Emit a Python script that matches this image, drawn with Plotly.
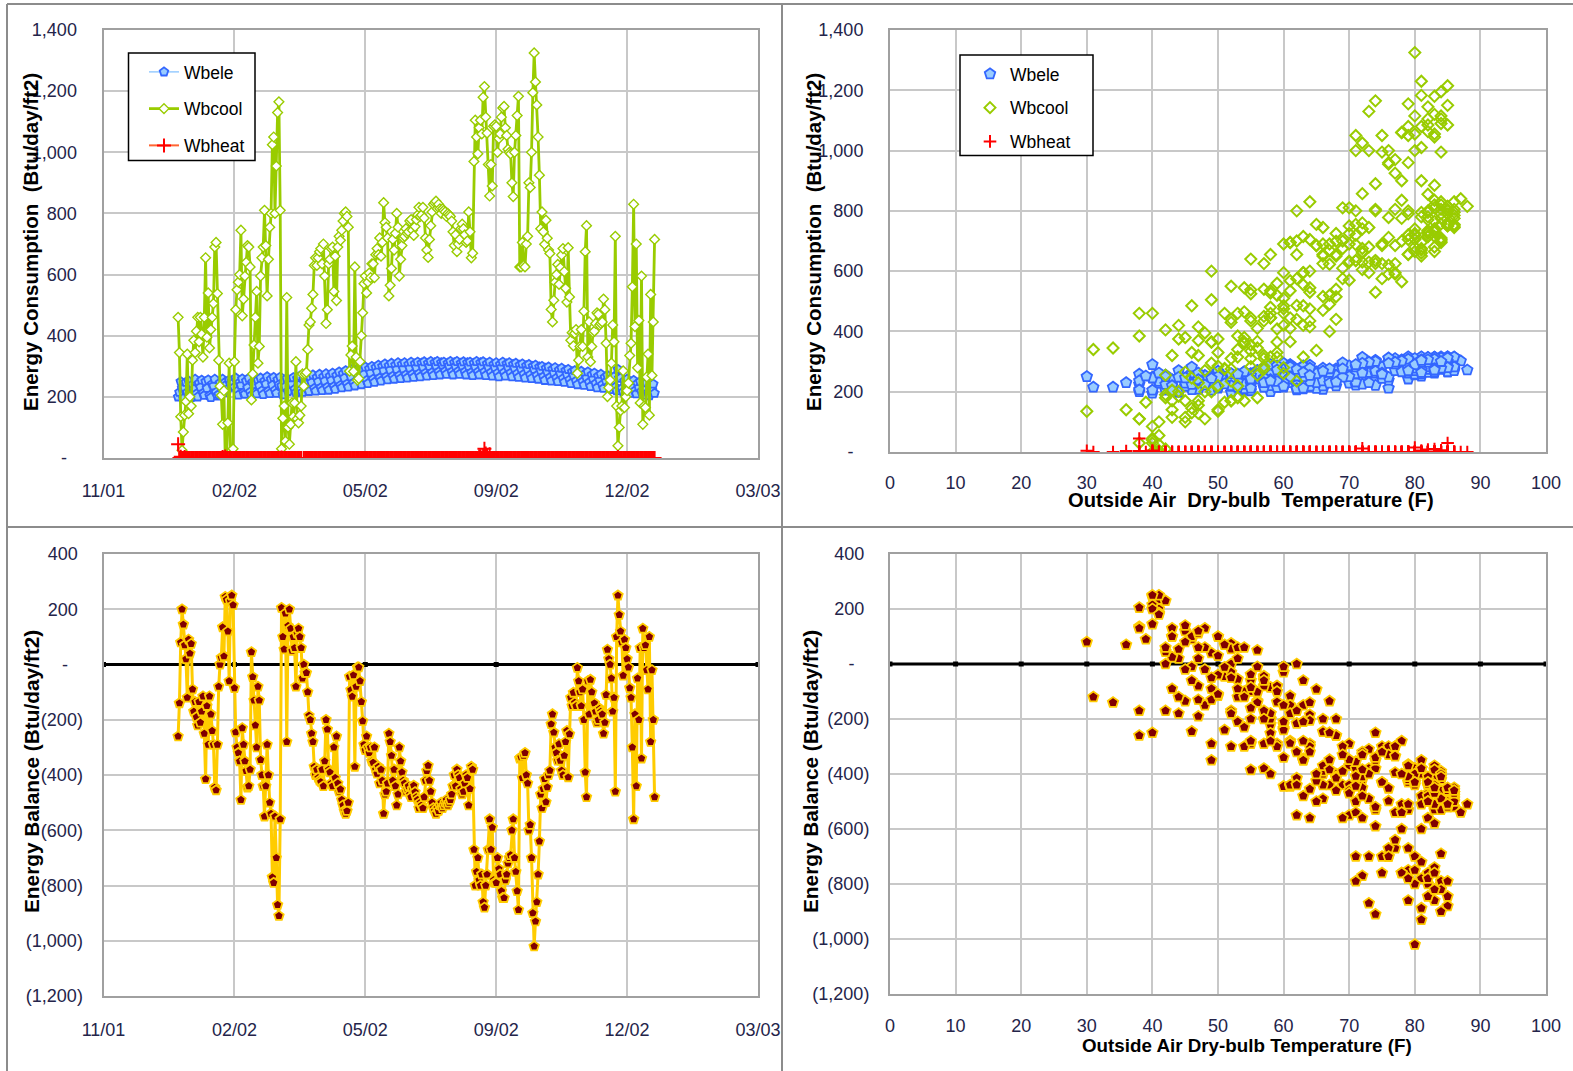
import pandas as pd
import plotly.graph_objects as go

# ---------------------------------------------------------------------------
# Daily building energy data for 2002 (Btu/day/ft2) and outside air temperature
# ---------------------------------------------------------------------------
dates = pd.date_range("2002-01-01", "2002-12-31", freq="D")

temp_f = [
    38, 34, 30, 41, 40, 36, 44, 31, 46, 49, 52, 43, 38, 56, 47, 58, 45, 53, 42, 50, 40, 62, 48, 57, 54, 44, 51, 49, 60, 64, 55,
    47, 52, 43, 38, 50, 40, 41, 45, 55, 42, 41, 40, 58, 46, 52, 62, 49, 66, 54, 59, 63, 55, 61, 67, 57, 42, 51, 47,
    60, 54, 57, 49, 63, 58, 66, 70, 61, 64, 68, 65, 71, 72, 71, 62, 76, 73, 74, 69, 38, 46, 52, 41, 55, 45, 40, 48, 56, 50, 53,
    59, 47, 43, 50, 54, 57, 62, 52, 60, 55, 64, 58, 67, 61, 70, 66, 73, 68, 72, 65, 74, 69, 63, 68, 60, 71, 66, 75, 70, 64,
    72, 68, 75, 70, 76, 73, 78, 74, 77, 79, 71, 57, 65, 61, 55, 66, 59, 56, 60, 63, 67, 64, 70, 73, 68, 75, 72, 77, 74, 71, 76,
    80, 77, 83, 79, 81, 84, 78, 82, 85, 80, 74, 78, 76, 83, 80, 82, 79, 86, 77, 81, 84, 79, 82, 85, 83, 80, 84, 81, 86, 82,
    84, 82, 86, 83, 85, 81, 84, 86, 80, 83, 79, 82, 85, 84, 86, 83, 87, 85, 84, 88, 82, 85, 83, 86, 84, 85, 82, 84, 86, 83, 81,
    83, 81, 84, 82, 85, 83, 86, 82, 80, 84, 85, 83, 79, 81, 77, 82, 79, 75, 81, 84, 78, 83, 85, 80, 82, 76, 72, 79, 74, 82, 84,
    85, 80, 83, 78, 84, 82, 85, 79, 83, 81, 76, 84, 78, 82, 73, 80, 83, 81, 74, 77, 79, 72, 75, 78, 80, 81, 83, 71, 84, 80,
    81, 79, 75, 77, 70, 74, 72, 68, 76, 71, 73, 67, 62, 58, 66, 69, 64, 70, 61, 67, 72, 65, 69, 63, 60, 71, 58, 53, 61, 56, 59,
    60, 51, 57, 54, 63, 49, 58, 69, 72, 46, 61, 53, 59, 56, 64, 52, 60, 66, 55, 62, 58, 67, 63, 50, 44, 47, 42, 52, 57, 54,
    68, 43, 40, 41, 47, 45, 50, 39, 48, 53, 46, 55, 44, 59, 64, 52, 62, 49, 57, 42, 60, 38, 47, 51, 45, 53, 43, 58, 48, 55, 63,
]

wb_ele = [
    200, 215, 250, 228, 195, 230, 248, 215, 252, 205, 198, 240, 225, 258, 210, 200, 245, 232, 255, 212, 205, 250, 228, 256, 204, 198, 242, 236, 258, 215, 203,
    208, 246, 230, 258, 214, 248, 240, 226, 255, 242, 252, 245, 232, 262, 218, 206, 247, 238, 259, 214, 209, 252, 230, 261, 216, 205, 249, 240,
    215, 210, 255, 236, 262, 220, 208, 252, 242, 266, 219, 211, 258, 238, 264, 222, 212, 256, 240, 265, 236, 207, 250, 234, 260, 218, 246, 254, 242, 263, 225,
    214, 260, 238, 268, 224, 215, 258, 244, 270, 226, 218, 262, 247, 272, 228, 219, 264, 250, 274, 230, 221, 266, 252, 276, 232, 222, 268, 254, 278, 234,
    225, 270, 256, 282, 238, 230, 276, 262, 286, 242, 232, 280, 266, 290, 246, 236, 284, 270, 294, 250, 240, 288, 274, 298, 254, 244, 292, 278, 300, 258, 248,
    296, 282, 304, 262, 252, 300, 286, 308, 266, 256, 302, 288, 310, 268, 258, 304, 290, 312, 270, 260, 306, 292, 312, 272, 262, 306, 294, 314, 274, 264,
    308, 296, 314, 276, 266, 310, 298, 315, 278, 268, 310, 300, 316, 280, 270, 312, 302, 316, 282, 272, 312, 304, 314, 284, 274, 310, 302, 316, 282, 272, 312,
    300, 316, 284, 274, 310, 302, 315, 282, 272, 312, 300, 314, 280, 270, 310, 298, 316, 282, 272, 312, 300, 315, 282, 270, 308, 298, 314, 280, 268, 306, 296,
    312, 278, 266, 306, 296, 314, 280, 268, 308, 298, 312, 278, 266, 306, 294, 310, 276, 264, 304, 292, 308, 274, 262, 302, 290, 306, 272, 260, 300, 290,
    304, 270, 258, 298, 286, 300, 266, 254, 294, 282, 298, 264, 252, 290, 278, 296, 262, 250, 288, 276, 294, 260, 248, 286, 274, 290, 256, 244, 282, 270, 286,
    252, 240, 278, 266, 284, 250, 238, 276, 262, 282, 248, 234, 272, 258, 278, 244, 230, 268, 254, 274, 240, 228, 264, 250, 270, 236, 224, 260, 246, 266,
    232, 220, 290, 262, 262, 228, 216, 252, 238, 258, 224, 212, 248, 234, 254, 220, 210, 244, 230, 250, 218, 206, 240, 226, 246, 214, 204, 236, 222, 242, 212,
]

wb_cool = [
    460, 345, 135, 25, 85, 140, 185, 340, 145, 200, 170, 320, 385, 345, 415, 460, 380, 460, 405, 330, 460, 655, 395, 540, 360, 420, 460, 505, 690, 705, 538,
    320, 235, 205, 110, 220, 0, 5, 115, 310, 10, 0, 30, 315, 485, 550, 575, 600, 745, 465, 520, 595, 640, 695, 690, 625, 190, 275, 370,
    460, 545, 310, 365, 595, 655, 690, 810, 695, 530, 650, 755, 800, 1025, 1050, 800, 955, 1130, 1165, 810, 30, 130, 170, 55, 525, 100, 45, 110, 180, 135, 180,
    315, 128, 115, 140, 170, 275, 235, 275, 280, 355, 435, 445, 490, 535, 630, 655, 630, 655, 675, 685, 635, 700, 595, 440, 485, 635, 650, 685, 690, 545,
    660, 515, 690, 725, 712, 745, 775, 800, 805, 790, 755, 284, 337, 366, 283, 625, 330, 255, 260, 315, 400, 475, 570, 595, 540, 575, 605, 590, 635, 635, 590,
    665, 685, 665, 720, 660, 705, 835, 770, 755, 720, 530, 565, 620, 715, 680, 735, 800, 755, 595, 650, 695, 720, 725, 750, 735, 740, 775, 780, 745, 728,
    757, 780, 795, 820, 790, 795, 820, 785, 720, 680, 656, 715, 760, 805, 830, 835, 840, 815, 830, 815, 800, 815, 810, 805, 790, 800, 795, 790, 775, 740, 695,
    730, 675, 700, 715, 750, 765, 750, 730, 705, 710, 805, 740, 655, 670, 970, 1105, 1050, 995, 1080, 1105, 1060, 1180, 1215, 1115, 1063, 960, 857, 960, 890, 1085, 1090,
    1085, 1000, 1045, 1060, 1115, 1145, 1150, 1080, 1055, 1010, 1000, 995, 900, 855, 1000, 1055, 1120, 1183, 625, 625, 705, 630, 625, 700, 725, 900, 885, 1000, 1195, 1325,
    1230, 1155, 1050, 925, 750, 805, 740, 699, 778, 719, 680, 669, 486, 445, 516, 575, 600, 633, 568, 623, 664, 685, 610, 555, 510, 688, 527, 385, 410, 367, 408,
    420, 277, 320, 365, 420, 365, 480, 675, 760, 330, 445, 315, 365, 410, 415, 440, 475, 470, 435, 440, 445, 520, 485, 375, 201, 230, 255, 310, 435, 380,
    725, 170, 40, 100, 155, 170, 285, 165, 200, 220, 245, 335, 375, 560, 830, 430, 700, 295, 450, 180, 595, 110, 170, 165, 265, 340, 140, 535, 270, 445, 715,
]

wb_heat = [
    45, 0, 4, 0, 0, 3, 0, 0, 0, 0, 0, 0, 0, 0, 0, 0, 0, 0, 0, 0, 0, 0, 0, 0, 0, 0, 0, 0, 0, 0, 0,
    0, 0, 0, 3, 0, 5, 0, 0, 0, 0, 0, 0, 0, 0, 0, 0, 0, 0, 0, 0, 0, 0, 0, 0, 0, 0, 0, 0,
    0, 0, 0, 0, 0, 0, 0, 0, 0, 0, 0, 0, 0, 0, 0, 0, 0, 0, 0, 0, 2, 0, 0, 0, 0, 0, 0, 0, 0, 0, 0,
    0, 0, 0, 0, 0, None, 0, 0, 0, 0, 0, 0, 0, 0, 0, 0, 0, 0, 0, 0, 0, 0, 0, 0, 0, 0, 0, 0, 0, 0,
    0, 0, 0, 0, 0, 0, 0, 0, 0, 0, 0, 0, 0, 0, 0, 0, 0, 0, 0, 0, 0, 0, 0, 0, 0, 0, 0, 0, 0, 0, 0,
    0, 0, 0, 0, 0, 0, 0, 0, 0, 0, 0, 0, 0, 0, 0, 0, 0, 0, 0, 0, 0, 0, 0, 0, 0, 0, 0, 0, 0, 0,
    0, 0, 0, 0, 0, 0, 0, 0, 0, 0, 0, 0, 0, 0, 0, 0, 0, 0, 0, 0, 0, 0, 0, 0, 0, 0, 0, 0, 0, 0, 0,
    0, 0, 0, 0, 0, 0, 0, 0, 0, 0, 0, 0, 0, 0, 0, 0, 0, 0, 5, 6, 0, 10, 30, 15, 8, 0, 12, 0, 0, 0, 0,
    0, 0, 0, 0, 0, 0, 0, 0, 0, 0, 0, 0, 0, 0, 0, 0, 0, 0, 0, 0, 0, 0, 0, 0, 0, 0, 0, 0, 0, 0,
    0, 0, 0, 0, 0, 0, 0, 0, 0, 0, 0, 0, 0, 0, 0, 0, 0, 0, 0, 0, 0, 0, 0, 0, 0, 0, 0, 0, 0, 0, 0,
    0, 0, 0, 0, 0, 0, 0, 0, 0, 0, 0, 0, 0, 0, 0, 0, 0, 0, 0, 0, 0, 0, 0, 0, 0, 0, 0, 0, 0, 0,
    0, 0, 3, 0, 0, 0, 0, 0, 0, 0, 0, 0, 0, 0, 0, 0, 0, 0, 0, 0, 0, 0, 0, 0, 0, 0, 0, 0, 0, 0, 0,
]

balance = [
    -260, -140, 80, 200, 145, 70, 20, -120, 90, 40, 75, -90, -170, -135, -190, -220, -135, -210, -170, -115, -250, -415, -150, -290, -115, -180, -240, -290, -445, -455, -290,
    -80, 0, 25, 135, 30, 245, 235, 120, -60, 230, 250, 215, -85, -245, -300, -320, -350, -490, -230, -290, -350, -385, -445, -440, -380, 45, -45, -130,
    -220, -300, -80, -130, -345, -400, -440, -550, -440, -290, -400, -500, -540, -770, -790, -550, -700, -870, -910, -560, 205, 100, 55, 185, -280, 140, 200, 130, 50, 100, 60,
    -80, 112, 130, 100, 60, -50, 0, -30, -30, -100, -185, -200, -250, -280, -370, -400, -380, -410, -420, -425, -380, -440, -350, -200, -235, -380, -390, -430, -440, -300,
    -410, -260, -430, -460, -452, -490, -510, -530, -540, -530, -500, -44, -92, -116, -38, -370, -80, -10, -10, -60, -135, -205, -290, -310, -260, -300, -320, -300, -350, -355, -300,
    -380, -395, -370, -430, -380, -420, -540, -470, -460, -430, -250, -280, -330, -420, -380, -440, -510, -470, -300, -350, -390, -420, -430, -460, -450, -440, -470, -480, -450, -438,
    -462, -480, -490, -520, -500, -510, -520, -480, -420, -385, -366, -420, -460, -500, -520, -530, -540, -520, -530, -510, -500, -520, -510, -500, -490, -510, -500, -490, -470, -440, -400,
    -440, -380, -400, -410, -450, -470, -460, -430, -400, -410, -510, -450, -370, -380, -670, -800, -750, -700, -780, -800, -760, -860, -880, -800, -760, -670, -560, -670, -590, -780, -790,
    -790, -700, -740, -760, -820, -845, -845, -780, -760, -720, -700, -690, -600, -560, -700, -750, -820, -888, -340, -335, -410, -330, -320, -400, -430, -600, -580, -700, -900, -1020,
    -930, -860, -760, -640, -470, -520, -450, -414, -498, -444, -400, -384, -216, -180, -246, -300, -320, -348, -288, -348, -384, -400, -330, -280, -240, -408, -252, -120, -150, -102, -138,
    -150, -12, -60, -100, -150, -90, -200, -390, -480, -60, -180, -55, -100, -140, -140, -170, -210, -200, -160, -170, -180, -250, -210, -110, 54, 20, 0, -50, -170, -120,
    -460, 100, 250, 180, 120, 80, -40, 90, 60, 20, -10, -85, -120, -300, -560, -180, -440, -50, -200, 60, -340, 130, 60, 70, -20, -90, 100, -280, -20, -200, -480,
]

for name, series in [("temp_f", temp_f), ("wb_ele", wb_ele), ("wb_cool", wb_cool),
                     ("wb_heat", wb_heat), ("balance", balance)]:
    assert len(series) == len(dates), (name, len(series))

# Axis ticks
date_tick_vals = ["2001-11-05", "2002-02-13", "2002-05-24", "2002-09-01", "2002-12-10", "2003-03-20"]
date_tick_text = ["11/01", "02/02", "05/02", "09/02", "12/02", "03/03"]
temp_tick_vals = [0, 10, 20, 30, 40, 50, 60, 70, 80, 90, 100]
temp_tick_text = ["0", "10", "20", "30", "40", "50", "60", "70", "80", "90", "100"]
NB = "\u00a0"
cons_tick_vals = [0, 200, 400, 600, 800, 1000, 1200, 1400]
cons_tick_text = ["-" + NB * 3, "200" + NB, "400" + NB, "600" + NB, "800" + NB,
                  "1,000" + NB, "1,200" + NB, "1,400" + NB]
bal_tick_vals = [-1200, -1000, -800, -600, -400, -200, 0, 200, 400]
bal_tick_text = ["(1,200)", "(1,000)", "(800)", "(600)", "(400)", "(200)",
                 "-" + NB * 3, "200" + NB, "400" + NB]

# Zero reference lines for the balance panels
zero_line_dates = date_tick_vals
zero_line_dates_y = [0, 0, 0, 0, 0, 0]
zero_line_temps = temp_tick_vals
zero_line_temps_y = [0, 0, 0, 0, 0, 0, 0, 0, 0, 0, 0]

# ---------------------------------------------------------------------------
W, H = 1573, 1071
FONT = "Liberation Sans, Arial, sans-serif"
TICK_COLOR = "#24244a"
GRID = "#C8C8C8"
FRAME = "#A0A0A0"

ELE_FILL, ELE_EDGE = "#99CCFF", "#3366FF"
COOL = "#99CC00"
HEAT = "#FF0000"
BAL_FILL, BAL_EDGE = "#800000", "#FFCC00"


def fx(p):
    return p / W


def fy(p):
    return 1 - p / H


fig = go.Figure()

# --- top left: consumption time series ---
fig.add_trace(go.Scatter(
    x=dates, y=wb_ele, name="Wbele", mode="lines+markers",
    line=dict(color=ELE_FILL, width=1.5),
    marker=dict(symbol="pentagon", size=9, color=ELE_FILL, line=dict(color=ELE_EDGE, width=1.8)),
    xaxis="x", yaxis="y", legend="legend", legendgroup="ts_ele"))
fig.add_trace(go.Scatter(
    x=dates, y=wb_cool, name="Wbcool", mode="lines+markers",
    line=dict(color=COOL, width=2.8),
    marker=dict(symbol="diamond", size=7.5, color="white", line=dict(color=COOL, width=1.4)),
    xaxis="x", yaxis="y", legend="legend", legendgroup="ts_cool"))
fig.add_trace(go.Scatter(
    x=dates, y=wb_heat, name="Wbheat", mode="lines+markers",
    line=dict(color="#FF6633", width=2),
    marker=dict(symbol="cross-thin-open", size=10, color=HEAT, line=dict(color=HEAT, width=2)),
    xaxis="x", yaxis="y", legend="legend", legendgroup="ts_heat"))

# --- top right: consumption vs temperature ---
fig.add_trace(go.Scatter(
    x=temp_f, y=wb_ele, name="Wbele", mode="markers",
    marker=dict(symbol="pentagon", size=11, color=ELE_FILL, line=dict(color=ELE_EDGE, width=1.8)),
    xaxis="x2", yaxis="y2", legend="legend2", legendgroup="sc_ele"))
fig.add_trace(go.Scatter(
    x=temp_f, y=wb_cool, name="Wbcool", mode="markers",
    marker=dict(symbol="diamond-open", size=8.5, color=COOL, line=dict(color=COOL, width=2)),
    xaxis="x2", yaxis="y2", legend="legend2", legendgroup="sc_cool"))
fig.add_trace(go.Scatter(
    x=temp_f, y=wb_heat, name="Wbheat", mode="markers",
    marker=dict(symbol="cross-thin-open", size=9, color=HEAT, line=dict(color=HEAT, width=2)),
    xaxis="x2", yaxis="y2", legend="legend2", legendgroup="sc_heat"))

# --- bottom left: energy balance time series ---
fig.add_trace(go.Scatter(
    x=zero_line_dates, y=zero_line_dates_y, mode="lines+markers", showlegend=False,
    line=dict(color="black", width=3), marker=dict(symbol="square", size=5, color="black"),
    xaxis="x3", yaxis="y3", hoverinfo="skip"))
fig.add_trace(go.Scatter(
    x=dates, y=balance, name="Balance", mode="lines+markers", showlegend=False,
    line=dict(color=BAL_EDGE, width=3),
    marker=dict(symbol="pentagon", size=10, color=BAL_FILL, line=dict(color=BAL_EDGE, width=1.8)),
    xaxis="x3", yaxis="y3"))

# --- bottom right: energy balance vs temperature ---
fig.add_trace(go.Scatter(
    x=zero_line_temps, y=zero_line_temps_y, mode="lines+markers", showlegend=False,
    line=dict(color="black", width=3), marker=dict(symbol="square", size=5, color="black"),
    xaxis="x4", yaxis="y4", hoverinfo="skip"))
fig.add_trace(go.Scatter(
    x=temp_f, y=balance, name="Balance", mode="markers", showlegend=False,
    marker=dict(symbol="pentagon", size=11, color=BAL_FILL, line=dict(color=BAL_EDGE, width=1.8)),
    xaxis="x4", yaxis="y4"))

axis_common = dict(
    showgrid=True, gridcolor=GRID, gridwidth=1.5,
    showline=True, mirror=True, linecolor=FRAME, linewidth=2,
    zeroline=False, ticks="", automargin=False,
    tickfont=dict(family=FONT, size=18, color=TICK_COLOR),
)

LEFT_X = [fx(103.5), fx(758)]
RIGHT_X = [fx(890), fx(1546)]

fig.update_layout(
    width=W, height=H,
    margin=dict(l=0, r=0, t=0, b=0, autoexpand=False),
    paper_bgcolor="white", plot_bgcolor="white",
    font=dict(family=FONT, color="black"),
    showlegend=True,
    xaxis=dict(axis_common, domain=LEFT_X, anchor="y", type="date",
               range=["2001-11-05", "2003-03-20"],
               tickvals=date_tick_vals, ticktext=date_tick_text, ticklabelstandoff=15),
    yaxis=dict(axis_common, domain=[fy(458), fy(30)], anchor="x", range=[0, 1400],
               tickvals=cons_tick_vals, ticktext=cons_tick_text, ticklabelstandoff=16),
    xaxis2=dict(axis_common, domain=RIGHT_X, anchor="y2", range=[0, 100],
                tickvals=temp_tick_vals, ticktext=temp_tick_text, ticklabelstandoff=13),
    yaxis2=dict(axis_common, domain=[fy(452), fy(30)], anchor="x2", range=[0, 1400],
                tickvals=cons_tick_vals, ticktext=cons_tick_text, ticklabelstandoff=16),
    xaxis3=dict(axis_common, domain=LEFT_X, anchor="y3", type="date",
                range=["2001-11-05", "2003-03-20"],
                tickvals=date_tick_vals, ticktext=date_tick_text, ticklabelstandoff=16),
    yaxis3=dict(axis_common, domain=[fy(996), fy(554)], anchor="x3", range=[-1200, 400],
                tickvals=bal_tick_vals, ticktext=bal_tick_text, ticklabelstandoff=15),
    xaxis4=dict(axis_common, domain=RIGHT_X, anchor="y4", range=[0, 100],
                tickvals=temp_tick_vals, ticktext=temp_tick_text, ticklabelstandoff=14),
    yaxis4=dict(axis_common, domain=[fy(994), fy(554)], anchor="x4", range=[-1200, 400],
                tickvals=bal_tick_vals, ticktext=bal_tick_text, ticklabelstandoff=15),
    legend=dict(x=fx(144), y=fy(54), xanchor="left", yanchor="top",
                bgcolor="rgba(0,0,0,0)", borderwidth=0, tracegroupgap=11,
                traceorder="grouped",
                font=dict(family=FONT, size=17.5, color="black")),
    legend2=dict(x=fx(970), y=fy(56), xanchor="left", yanchor="top",
                 bgcolor="rgba(0,0,0,0)", borderwidth=0, tracegroupgap=8,
                 traceorder="grouped",
                 font=dict(family=FONT, size=17.5, color="black")),
)

# Panel frames and legend boxes
BORDER = "#8C8C8C"
shapes = [
    dict(type="rect", xref="paper", yref="paper", x0=fx(128.5), x1=fx(255), y0=fy(160.5), y1=fy(53),
         line=dict(color="black", width=1.5), fillcolor="white", layer="above"),
    dict(type="rect", xref="paper", yref="paper", x0=fx(960), x1=fx(1093), y0=fy(155.5), y1=fy(55),
         line=dict(color="black", width=1.5), fillcolor="white", layer="above"),
    dict(type="line", xref="paper", yref="paper", x0=fx(7), x1=1, y0=fy(4), y1=fy(4),
         line=dict(color=BORDER, width=2), layer="above"),
    dict(type="line", xref="paper", yref="paper", x0=fx(7), x1=fx(7), y0=fy(4), y1=0,
         line=dict(color=BORDER, width=2), layer="above"),
    dict(type="line", xref="paper", yref="paper", x0=fx(782), x1=fx(782), y0=fy(4), y1=0,
         line=dict(color=BORDER, width=2), layer="above"),
    dict(type="line", xref="paper", yref="paper", x0=fx(7), x1=1, y0=fy(527), y1=fy(527),
         line=dict(color=BORDER, width=2), layer="above"),
]
fig.update_layout(shapes=shapes)


# Axis titles
def title(text, x, y, size, angle=0):
    return dict(text="<b>" + text + "</b>", x=fx(x), y=fy(y), xref="paper", yref="paper",
                xanchor="center", yanchor="middle", showarrow=False, textangle=angle,
                font=dict(family=FONT, size=size, color="black"))


fig.update_layout(annotations=[
    title("Energy Consumption" + NB + NB + "(Btu/day/ft2)", 31, 242, 20.5, -90),
    title("Energy Consumption" + NB + NB + "(Btu/day/ft2)", 814, 242, 20.5, -90),
    title("Energy Balance (Btu/day/ft2)", 31, 772, 20.8, -90),
    title("Energy Balance (Btu/day/ft2)", 810, 772, 20.8, -90),
    title("Outside Air" + NB + NB + "Dry-bulb" + NB + NB + "Temperature (F)", 1251, 500, 20.2),
    title("Outside Air Dry-bulb Temperature (F)", 1247, 1045, 18.8),
])

fig.write_html("out.html")
